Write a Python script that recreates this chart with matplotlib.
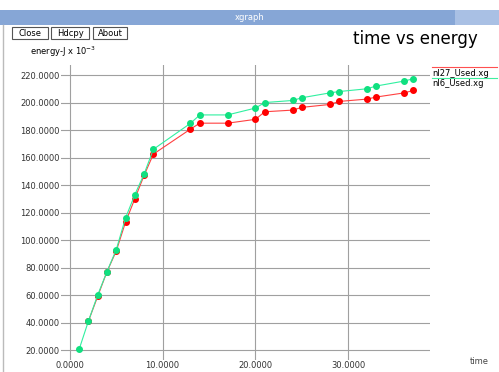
import numpy as np
import matplotlib
matplotlib.use("Agg")
import matplotlib.pyplot as plt
from matplotlib.patches import Rectangle

# data
x_nl27 = [2, 3, 4, 5, 6, 7, 8, 9, 13, 14, 17, 20, 21, 24, 25, 28, 29, 32, 33, 36, 37]
y_nl27 = [41, 59, 77, 92, 113, 130, 147, 162.5, 180.7, 185, 185, 187.8, 193.3,
          194.5, 196.5, 198.6, 200.8, 202.5, 204, 207, 208.8]

x_nl6 = [1, 2, 3, 4, 5, 6, 7, 8, 9, 13, 14, 17, 20, 21, 24, 25, 28, 29, 32, 33, 36, 37]
y_nl6 = [20.5, 41, 60, 77, 93, 116, 133, 148, 166, 184.9, 191, 191, 196, 200,
         201.5, 203.5, 207, 208, 210, 212, 215.6, 217.3]

xticks = [0, 10, 20, 30]
yticks = [20, 40, 60, 80, 100, 120, 140, 160, 180, 200, 220]

W, H = 499, 372
fig = plt.figure(figsize=(W / 100, H / 100), dpi=100)
fig.patch.set_facecolor("white")

def fx(px):
    return px / W

def fy(py):
    return 1 - py / H

# window chrome
fig.patches.append(Rectangle((0, fy(25)), 1, 15 / H, transform=fig.transFigure,
                             facecolor="#86a6d6", edgecolor="none"))
fig.patches.append(Rectangle((fx(455), fy(25)), 44 / W, 15 / H, transform=fig.transFigure,
                             facecolor="#a9c0e4", edgecolor="none"))
fig.text(fx(250), fy(17.5), "xgraph", color="white", fontsize=6, ha="center", va="center")
fig.lines.append(plt.Line2D([fx(3), fx(3)], [0, fy(25)], transform=fig.transFigure,
                            color="#bbbbbb", lw=1))
for x0, x1, lab in [(12, 48, "Close"), (51, 89, "Hdcpy"), (93, 127, "About")]:
    fig.patches.append(Rectangle((fx(x0), fy(39)), (x1 - x0) / W, 12 / H,
                                 transform=fig.transFigure, facecolor="white",
                                 edgecolor="#555555", lw=0.8))
    fig.text(fx((x0 + x1) / 2), fy(33), lab, fontsize=6, ha="center", va="center")

fig.text(fx(30), fy(52), r"energy-J x 10$^{-3}$", fontsize=6, va="center")
fig.text(fx(478), fy(39), "time vs energy", fontsize=12, ha="right", va="center")
fig.text(fx(470), fy(362), "time", fontsize=6, ha="left", va="center", color="#444444")

# plot area
ax = fig.add_axes([fx(61), fy(360), (430 - 61) / W, (360 - 65) / H])
ax.set_xlim(-0.95, 38.8)
ax.set_ylim(12.8, 227.3)
for s in ax.spines.values():
    s.set_visible(False)
ax.set_xticks(xticks)
ax.set_yticks(yticks)
ax.set_xticklabels(["%.4f" % v for v in xticks])
ax.set_yticklabels(["%.4f" % v for v in yticks])
ax.tick_params(length=0, labelsize=6, colors="#333333", pad=1)
ax.tick_params(axis="x", pad=0.5)
ax.grid(True, color="#a0a0a0", lw=0.8)
ax.set_axisbelow(True)

ax.plot(x_nl27, y_nl27, color="#ff4040", lw=0.8, marker="o", ms=4,
        mec="#ff0000", mfc="#ff0000", label="nl27_Used.xg")
ax.plot(x_nl6, y_nl6, color="#30f0a0", lw=0.8, marker="o", ms=4,
        mec="#10e080", mfc="#10e080", label="nl6_Used.xg")

# legend drawn xgraph style: line above each label
fig.lines.append(plt.Line2D([fx(432), fx(497)], [fy(67), fy(67)], transform=fig.transFigure,
                            color="#ff5050", lw=0.8))
fig.text(fx(432), fy(73), "nl27_Used.xg", fontsize=6, va="center")
fig.lines.append(plt.Line2D([fx(432), fx(497)], [fy(78), fy(78)], transform=fig.transFigure,
                            color="#40f0a0", lw=0.8))
fig.text(fx(432), fy(84), "nl6_Used.xg", fontsize=6, va="center")

fig.savefig("out.png", dpi=100)
